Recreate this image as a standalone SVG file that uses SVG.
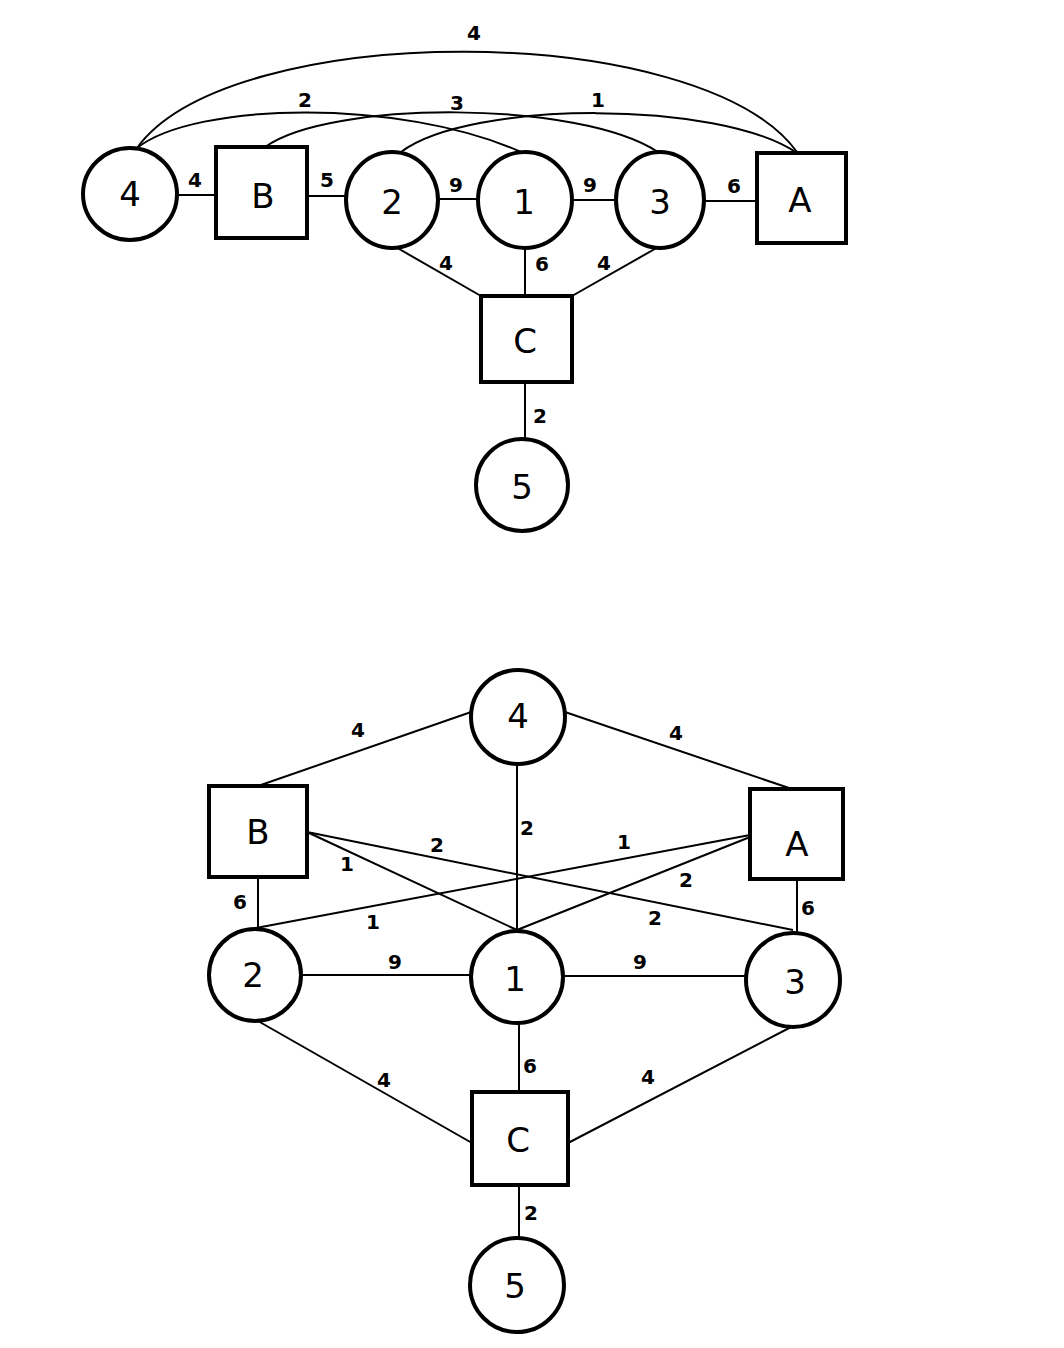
<svg xmlns="http://www.w3.org/2000/svg" width="1064" height="1348" viewBox="0 0 1064 1348">
<style>
.n{fill:#fff;stroke:#000;stroke-width:4}
.e{fill:none;stroke:#000;stroke-width:2}
.t{font-family:"DejaVu Sans","Liberation Sans",sans-serif;font-size:34px;text-anchor:middle;dominant-baseline:central}
.l{font-family:"DejaVu Sans","Liberation Sans",sans-serif;font-size:20px;font-weight:bold;text-anchor:middle;dominant-baseline:central}
</style>
<rect width="1064" height="1348" fill="#fff"/>
<g id="connectors">
<path class="e" d="M137,148 C230,19 700,19 797,152"/>
<path class="e" d="M137,148 C195,102 400,98 521,152"/>
<path class="e" d="M265,147 C330,100 580,100 658,152"/>
<path class="e" d="M401,152 C470,100 720,100 797,153"/>
<line class="e" x1="177" y1="195" x2="216" y2="195"/>
<line class="e" x1="307" y1="196" x2="346" y2="196"/>
<line class="e" x1="438" y1="199" x2="478" y2="199"/>
<line class="e" x1="572" y1="200" x2="617" y2="200"/>
<line class="e" x1="704" y1="201" x2="757" y2="201"/>
<line class="e" x1="394" y1="246" x2="481" y2="296"/>
<line class="e" x1="525" y1="248" x2="525" y2="296"/>
<line class="e" x1="660" y1="246" x2="572" y2="296"/>
<line class="e" x1="525" y1="382" x2="525" y2="438"/>
<line class="e" x1="474" y1="711" x2="258" y2="786"/>
<line class="e" x1="562" y1="711" x2="792" y2="789"/>
<line class="e" x1="517" y1="764" x2="517" y2="930"/>
<line class="e" x1="307" y1="832" x2="517" y2="930"/>
<line class="e" x1="307" y1="832" x2="793" y2="930"/>
<line class="e" x1="750" y1="835" x2="256" y2="928"/>
<line class="e" x1="750" y1="837" x2="517" y2="930"/>
<line class="e" x1="258" y1="877" x2="258" y2="929"/>
<line class="e" x1="797" y1="879" x2="797" y2="933"/>
<line class="e" x1="301" y1="975" x2="471" y2="975"/>
<line class="e" x1="563" y1="976" x2="745" y2="976"/>
<line class="e" x1="519" y1="1023" x2="519" y2="1092"/>
<line class="e" x1="258" y1="1021" x2="472" y2="1143"/>
<line class="e" x1="795" y1="1025" x2="568" y2="1143"/>
<line class="e" x1="519" y1="1185" x2="519" y2="1238"/>
</g>
<g id="edge-labels">
<text class="l" x="474" y="33">4</text>
<text class="l" x="305" y="100">2</text>
<text class="l" x="457" y="103">3</text>
<text class="l" x="598" y="100">1</text>
<text class="l" x="195" y="180">4</text>
<text class="l" x="327" y="180">5</text>
<text class="l" x="456" y="185">9</text>
<text class="l" x="590" y="185">9</text>
<text class="l" x="734" y="186">6</text>
<text class="l" x="446" y="263">4</text>
<text class="l" x="542" y="264">6</text>
<text class="l" x="604" y="263">4</text>
<text class="l" x="540" y="416">2</text>
<text class="l" x="358" y="730">4</text>
<text class="l" x="676" y="733">4</text>
<text class="l" x="527" y="828">2</text>
<text class="l" x="437" y="845">2</text>
<text class="l" x="624" y="842">1</text>
<text class="l" x="347" y="864">1</text>
<text class="l" x="686" y="880">2</text>
<text class="l" x="655" y="918">2</text>
<text class="l" x="373" y="922">1</text>
<text class="l" x="240" y="902">6</text>
<text class="l" x="808" y="908">6</text>
<text class="l" x="395" y="962">9</text>
<text class="l" x="640" y="962">9</text>
<text class="l" x="530" y="1066">6</text>
<text class="l" x="384" y="1080">4</text>
<text class="l" x="648" y="1077">4</text>
<text class="l" x="531" y="1213">2</text>
</g>
<g id="t4"><ellipse class="n" cx="130" cy="194" rx="47" ry="46"/><text class="t" x="130" y="194">4</text></g>
<g id="tB"><rect class="n" x="216" y="147" width="91" height="91"/><text class="t" x="263" y="196">B</text></g>
<g id="t2"><ellipse class="n" cx="392" cy="200" rx="46" ry="48"/><text class="t" x="392" y="202">2</text></g>
<g id="t1"><ellipse class="n" cx="525" cy="200" rx="47" ry="48"/><text class="t" x="524" y="202">1</text></g>
<g id="t3"><ellipse class="n" cx="660" cy="200" rx="44" ry="48"/><text class="t" x="660" y="202">3</text></g>
<g id="tA"><rect class="n" x="757" y="153" width="89" height="90"/><text class="t" x="800" y="200">A</text></g>
<g id="tC"><rect class="n" x="481" y="296" width="91" height="86"/><text class="t" x="525" y="341">C</text></g>
<g id="t5"><circle class="n" cx="522" cy="485" r="46"/><text class="t" x="522" y="487">5</text></g>
<g id="b4"><circle class="n" cx="518" cy="717" r="47"/><text class="t" x="518" y="716">4</text></g>
<g id="bB"><rect class="n" x="209" y="786" width="98" height="91"/><text class="t" x="258" y="832">B</text></g>
<g id="bA"><rect class="n" x="750" y="789" width="93" height="90"/><text class="t" x="797" y="844">A</text></g>
<g id="b2"><circle class="n" cx="255" cy="975" r="46"/><text class="t" x="253" y="975">2</text></g>
<g id="b1"><circle class="n" cx="517" cy="977" r="46"/><text class="t" x="515" y="979">1</text></g>
<g id="b3"><circle class="n" cx="793" cy="980" r="47"/><text class="t" x="795" y="982">3</text></g>
<g id="bC"><rect class="n" x="472" y="1092" width="96" height="93"/><text class="t" x="518" y="1140">C</text></g>
<g id="b5"><circle class="n" cx="517" cy="1285" r="47"/><text class="t" x="515" y="1286">5</text></g>
</svg>
